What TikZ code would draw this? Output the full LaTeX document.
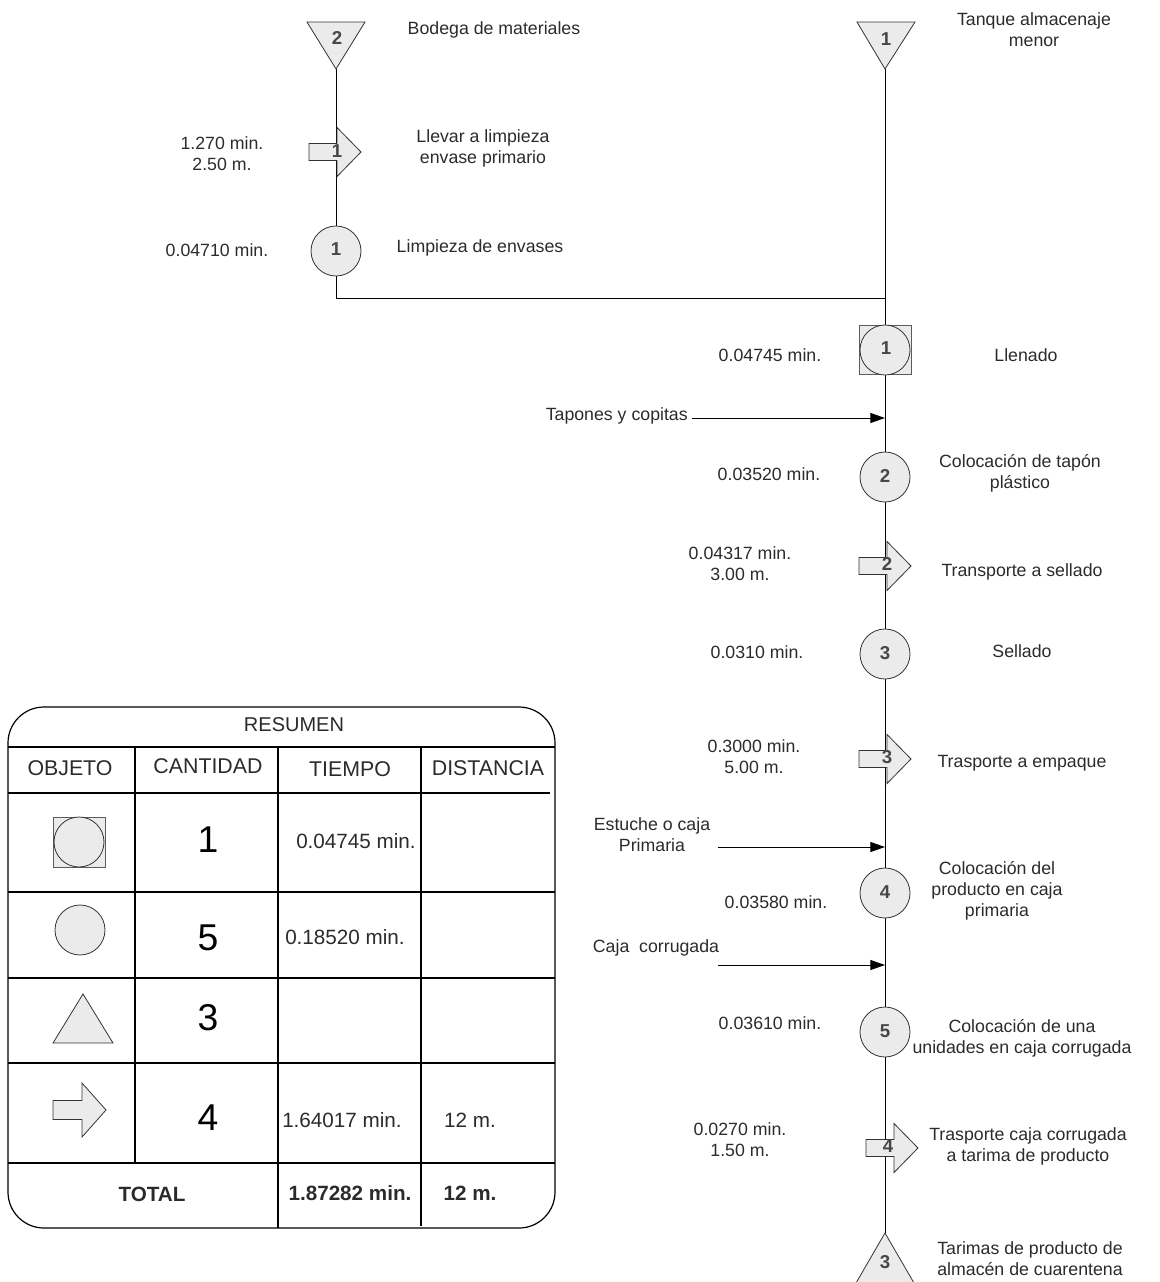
\documentclass[tikz,border=0pt]{standalone}
\usepackage{fontspec}
\setmainfont{Liberation Sans}
\usetikzlibrary{arrows.meta,backgrounds}

\definecolor{shapegray}{HTML}{EBEBEB}
\definecolor{inkgray}{HTML}{333333}
\definecolor{txtgray}{HTML}{2B2B2B}

\tikzset{
  lbl/.style={font=\fontsize{13.3}{15.75}\selectfont, align=center, inner sep=0pt, text=txtgray},
  shnum/.style={font=\fontsize{14}{16}\selectfont\bfseries, inner sep=0pt, text=inkgray!90},
  opcirc/.style={circle, draw=inkgray, fill=shapegray, minimum size=37.5pt, inner sep=0pt, line width=0.6pt},
  flow/.style={draw=black, line width=0.75pt},
  shapeline/.style={draw=inkgray, fill=shapegray, line width=0.6pt, line join=miter},
  feed/.style={draw=black, line width=0.75pt, -{Triangle[length=11pt,width=7.5pt]}},
  tabline/.style={draw=black, line width=0.9pt},
  thead/.style={font=\fontsize{16}{18}\selectfont, inner sep=0pt, text=txtgray},
  ttitle/.style={font=\fontsize{15}{18}\selectfont, inner sep=0pt, text=txtgray},
  tval/.style={font=\fontsize{15.5}{18}\selectfont, inner sep=0pt, text=txtgray},
  tbold/.style={font=\fontsize{15.5}{18}\selectfont\bfseries, inner sep=0pt, text=txtgray},
  tbig/.style={font=\fontsize{28}{30}\selectfont, inner sep=0pt, text=black},
  % transport arrow, origin at the middle of the head base
  procarrow/.pic={
    \path[shapeline] (-28,-8.5) -- (0,-8.5) -- (0,-24.5) -- (24,0) -- (0,24.5)
      -- (0,8.5) -- (-28,8.5) -- cycle;
  },
}

\begin{document}
\begin{tikzpicture}[x=0.75pt,y=-0.75pt]
\useasboundingbox (0,0) rectangle (1160,1282);
\clip (0,0) rectangle (1160,1282);

% ---------- left branch: materials store ----------
\path[shapeline] (307,22) -- (365,22) -- (336,69) -- cycle;
\coordinate (t2apex) at (336,69);
\node[shnum] (t2n) at (337,38) {2};
\node[lbl] (t2txt) at (494,30) {Bodega de materiales};

\pic at (337,152) {procarrow};
\node[shnum] (a1n) at (337,151) {1};
\node[lbl] (a1t) at (222,154) {1.270 min.\\2.50 m.};
\node[lbl] (a1txt) at (483,148) {Llevar a limpieza\\envase primario};

\node[opcirc] (c1) at (336,251) {};
\node[shnum] (c1n) at (336,249) {1};
\node[lbl] (c1t) at (217,250) {0.04710 min.};
\node[lbl] (c1txt) at (480,248) {Limpieza de envases};

\coordinate (corner) at (336,298);
\coordinate (join) at (885,298);

% ---------- main line ----------
\path[shapeline] (857,22) -- (915,22) -- (885,69) -- cycle;
\coordinate (t1apex) at (885,69);
\node[shnum] (t1n) at (886,39) {1};
\node[lbl] (t1txt) at (1034,30) {Tanque almacenaje\\menor};

\node[rectangle, draw=inkgray!80, fill=shapegray, line width=0.6pt,
      minimum width=39pt, minimum height=36.75pt, inner sep=0pt] (fillsq) at (885,350) {};
\node[opcirc] (fillc) at (885,350) {};
\node[shnum] (fillsqn) at (886,348) {1};
\node[lbl] (fillt) at (770,355) {0.04745 min.};
\node[lbl] (filltxt) at (1026,355) {Llenado};

\node[lbl, anchor=east] (tap) at (688,416) {Tapones y copitas};
\coordinate (in1) at (885,418);

\node[opcirc] (c2) at (885,477) {};
\node[shnum] (c2n) at (885,476) {2};
\node[lbl] (c2t) at (769,474) {0.03520 min.};
\node[lbl] (c2txt) at (1020,473) {Colocación de tapón\\plástico};

\pic at (887,566) {procarrow};
\node[shnum] (a2n) at (887,564) {2};
\node[lbl] (a2t) at (740,564) {0.04317 min.\\3.00 m.};
\node[lbl] (a2txt) at (1022,572) {Transporte a sellado};

\node[opcirc] (c3) at (885,654) {};
\node[shnum] (c3n) at (885,653) {3};
\node[lbl] (c3t) at (757,652) {0.0310 min.};
\node[lbl] (c3txt) at (1022,651) {Sellado};

\pic at (887,759) {procarrow};
\node[shnum] (a3n) at (887,757) {3};
\node[lbl] (a3t) at (754,757) {0.3000 min.\\5.00 m.};
\node[lbl] (a3txt) at (1022,763) {Trasporte a empaque};

\node[lbl] (est) at (652,835) {Estuche o caja\\Primaria};
\coordinate (fa2) at (718,847);
\coordinate (in2) at (885,847);

\node[opcirc] (c4) at (885,893) {};
\node[shnum] (c4n) at (885,892) {4};
\node[lbl] (c4t) at (776,902) {0.03580 min.};
\node[lbl] (c4txt) at (997,891) {Colocación del\\producto en caja\\primaria};

\node[lbl] (caja) at (656,948) {Caja\ \ corrugada};
\coordinate (fa3) at (718,965);
\coordinate (in3) at (885,965);

\node[opcirc] (c5) at (885,1032) {};
\node[shnum] (c5n) at (885,1031) {5};
\node[lbl] (c5t) at (770,1023) {0.03610 min.};
\node[lbl] (c5txt) at (1022,1038) {Colocación de una\\unidades en caja corrugada};

\pic at (894,1148) {procarrow};
\node[shnum] (a4n) at (888,1146) {4};
\node[lbl] (a4t) at (740,1140) {0.0270 min.\\1.50 m.};
\node[lbl] (a4txt) at (1028,1146) {Trasporte caja corrugada\\a tarima de producto};

\path[shapeline] (885,1233) -- (914,1283) -- (856,1283) -- cycle;
\coordinate (t3apex) at (885,1233);
\node[shnum] (t3n) at (885,1262) {3};
\node[lbl] (t3txt) at (1030,1259) {Tarimas de producto de\\almacén de cuarentena};

% ---------- flow lines ----------
\begin{scope}[on background layer]
  \draw[flow] (t2apex) -- (c1.north);
  \draw[flow] (c1.south) -- (corner) -- (join);
  \draw[flow] (t1apex) -- (fillsq.north);
  \draw[flow] (fillsq.south) -- (c2.north);
  \draw[flow] (c2.south) -- (c3.north);
  \draw[flow] (c3.south) -- (c4.north);
  \draw[flow] (c4.south) -- (c5.north);
  \draw[flow] (c5.south) -- (t3apex);
\end{scope}

\draw[feed] ([xshift=3pt]tap.east |- in1) -- (in1);
\draw[feed] (fa2) -- (in2);
\draw[feed] (fa3) -- (in3);

% ---------- summary table ----------
\draw[tabline, rounded corners=27pt] (8,707) rectangle (555,1228);
\draw[tabline] (8,747) -- (555,747);
\draw[tabline] (8,793) -- (550,793);
\draw[tabline] (8,892) -- (555,892);
\draw[tabline] (8,978) -- (555,978);
\draw[tabline] (8,1063) -- (555,1063);
\draw[tabline] (8,1163) -- (555,1163);
\draw[tabline] (135,747) -- (135,1163);
\draw[tabline] (278,747) -- (278,1228);
\draw[tabline] (421,747) -- (421,1226);

\node[ttitle] (res) at (294,725) {RESUMEN};
\node[thead] (hobj) at (70,768) {OBJETO};
\node[thead] (hcant) at (208,766) {CANTIDAD};
\node[thead] (htiem) at (350,769) {TIEMPO};
\node[thead] (hdist) at (488,768) {DISTANCIA};

% row: combined activity
\node[rectangle, draw=inkgray!80, fill=shapegray, line width=0.6pt,
      minimum width=39pt, minimum height=37.5pt, inner sep=0pt] (icsq) at (79,842) {};
\node[opcirc] (iccirc) at (79,842) {};
\node[tbig] (q1) at (208,840) {1};
\node[tval] (tm1) at (356,841) {0.04745 min.};

% row: operations
\node[opcirc] (icop) at (80,930) {};
\node[tbig] (q2) at (208,938) {5};
\node[tval] (tm2) at (345,937) {0.18520 min.};

% row: storage
\path[shapeline] (83,994) -- (113,1043) -- (53,1043) -- cycle;
\node[tbig] (q3) at (208,1018) {3};

% row: transport
\path[shapeline] (53,1100.5) -- (82,1100.5) -- (82,1083) -- (106,1110) -- (82,1137)
  -- (82,1119.5) -- (53,1119.5) -- cycle;
\node[tbig] (q4) at (208,1118) {4};
\node[tval] (tm4) at (342,1120) {1.64017 min.};
\node[tval] (d4) at (470,1120) {12 m.};

% totals
\node[tbold] (tot) at (152,1194) {TOTAL};
\node[tbold] (ttot) at (350,1193) {1.87282 min.};
\node[tbold] (dtot) at (470,1193) {12 m.};

\end{tikzpicture}
\end{document}
